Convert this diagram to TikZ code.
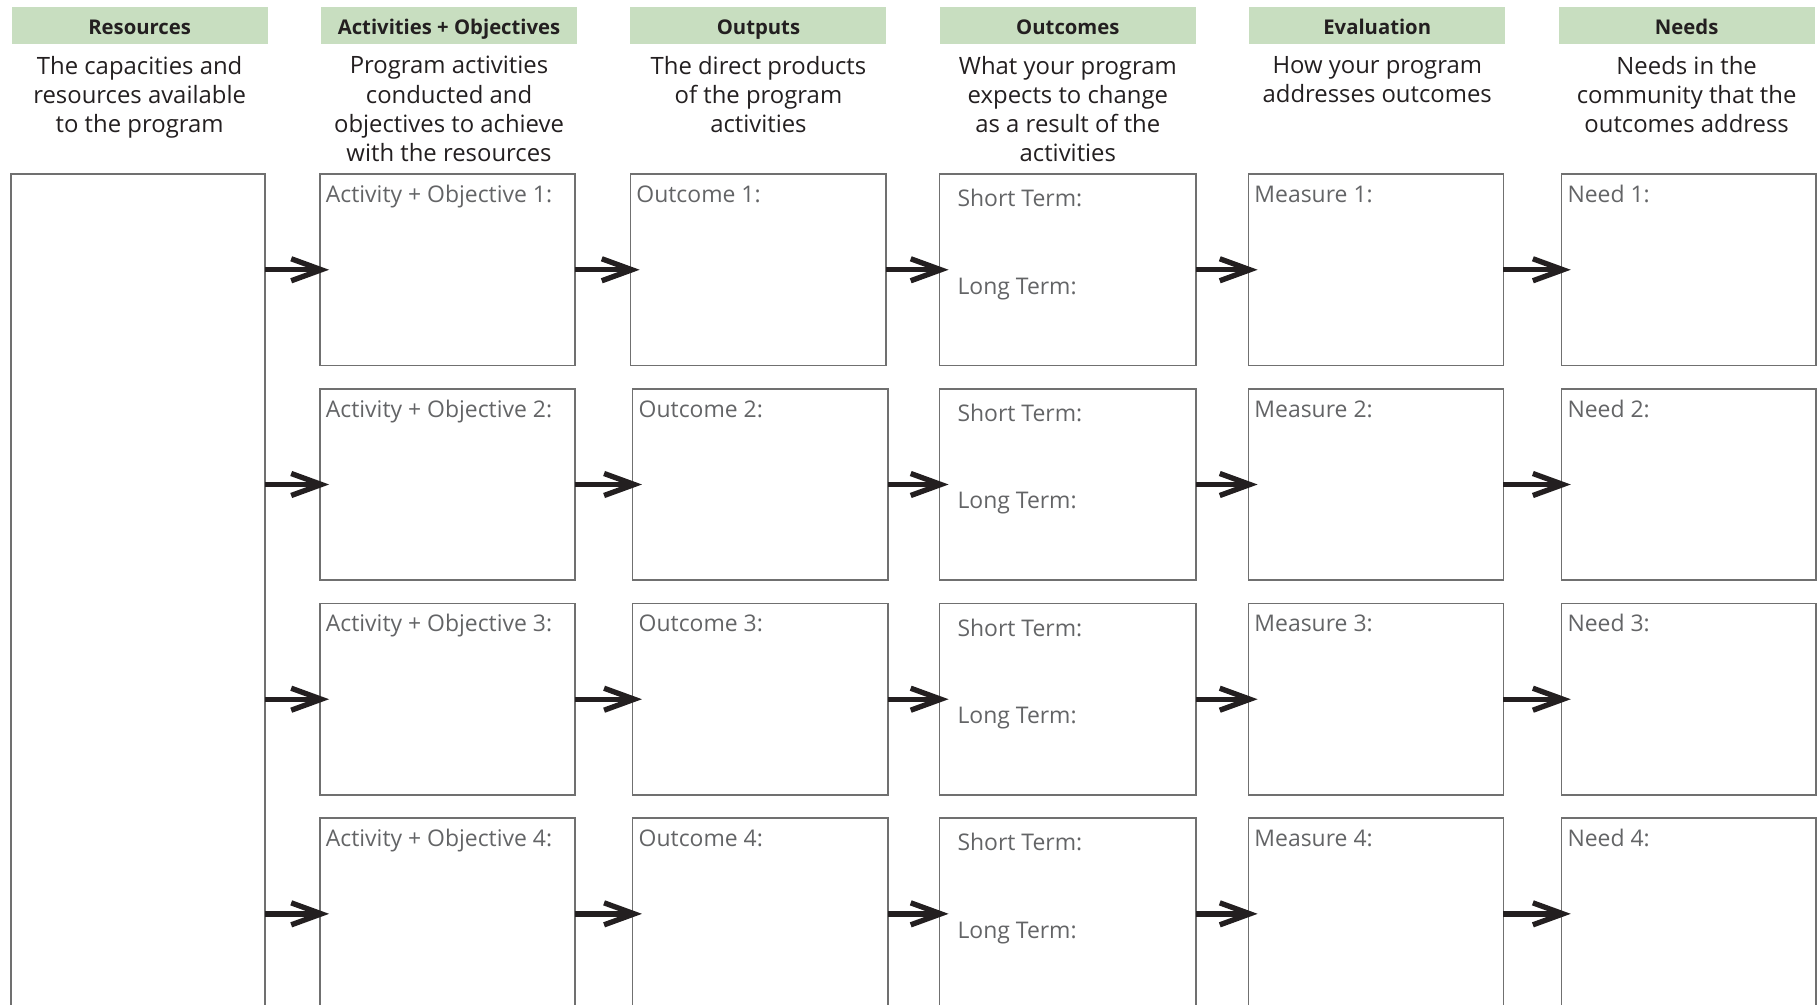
\documentclass[tikz,border=0pt]{standalone}
\usepackage{fontspec}
\setmainfont{Open Sans}
\usetikzlibrary{arrows.meta,calc}
\definecolor{hdrgreen}{RGB}{200,222,192}
\definecolor{ink}{RGB}{35,31,32}
\definecolor{lblgray}{RGB}{99,100,102}
\definecolor{boxline}{RGB}{112,112,112}
\begin{document}
\begin{tikzpicture}[x=1pt,y=-1pt,
  hdr/.style={fill=hdrgreen, draw=none, minimum width=221pt, minimum height=32pt, anchor=north west, inner sep=0pt, outer sep=0pt},
  hdrtxt/.style={font=\fontsize{17.5}{21}\selectfont\bfseries, text=ink, anchor=base, inner sep=0pt},
  desc/.style={font=\fontsize{20.6}{25.1}\selectfont, text=ink, align=center, anchor=north, inner sep=0pt, execute at begin node={\rule{0pt}{16pt}}},
  box/.style={draw=boxline, line width=1.3pt, anchor=north west, inner sep=0pt, outer sep=0pt, minimum height=165pt},
  lbl/.style={font=\fontsize{19.8}{23}\selectfont, text=lblgray, anchor=base west, inner sep=0pt},
  arr/.style={draw=ink, line width=4.6pt, -{Straight Barb[length=26pt, width=19pt, line cap=butt, line join=miter]}}
]
\useasboundingbox (0,0) rectangle (1568,867);
\clip (0,0) rectangle (1568,867);

% header bars
\foreach \k/\name in {0/Resources, 1/Activities + Objectives, 2/Outputs, 3/Outcomes, 4/Evaluation, 5/Needs}{
  \node[hdr] (h\k) at ({10+267*\k},6) {};
  \node[hdrtxt] (ht\k) at ({120.5+267*\k},29.6) {\name};
}

% descriptions
\node[desc] (d0) at (120.5,48.5) {The capacities and\\resources available\\to the program};
\node[desc] (d1) at (387.5,48.5) {Program activities\\conducted and\\objectives to achieve\\with the resources};
\node[desc] (d2) at (654.5,48.5) {The direct products\\of the program\\activities};
\node[desc] (d3) at (921.5,48.5) {What your program\\expects to change\\as a result of the\\activities};
\node[desc] (d4) at (1188.5,48.5) {How your program\\addresses outcomes};
\node[desc] (d5) at (1455.5,48.5) {Needs in the\\community that the\\outcomes address};

% resources box
\node[box, minimum width=219.2pt, minimum height=760pt] (res) at (9.5,150.3) {};

\foreach \r/\t/\ox in {1/150.3/544, 2/335.6/546, 3/520.9/546, 4/706.1/546}{
  \node[box, minimum width=220pt] (a\r) at (276,\t) {};
  \node[box, minimum width=220.5pt] (o\r) at (\ox,\t) {};
  \node[box, minimum width=221.5pt] (s\r) at (810.6,\t) {};
  \node[box, minimum width=220pt] (m\r) at (1077.3,\t) {};
  \node[box, minimum width=219.8pt] (n\r) at (1347.5,\t) {};
  \node[lbl] (al\r) at ($(a\r.north west)+(5,24.4)$) {Activity + Objective \r:};
  \node[lbl] (ol\r) at ($(o\r.north west)+(5,24.4)$) {Outcome \r:};
  \node[lbl] (ss\r) at ($(s\r.north west)+(15.5,28)$) {Short Term:};
  \node[lbl] (sl\r) at ($(s\r.north west)+(15.5,103.5)$) {Long Term:};
  \node[lbl] (ml\r) at ($(m\r.north west)+(5,24.4)$) {Measure \r:};
  \node[lbl] (nl\r) at ($(n\r.north west)+(5,24.4)$) {Need \r:};
  \draw[arr] (res.east |- a\r.west) -- ([xshift=8pt]a\r.west);
  \draw[arr] (a\r.east) -- ([xshift=8pt]o\r.west);
  \draw[arr] (o\r.east) -- ([xshift=8pt]s\r.west);
  \draw[arr] (s\r.east) -- ([xshift=8pt]m\r.west);
  \draw[arr] (m\r.east) -- ([xshift=8pt]n\r.west);
}
\end{tikzpicture}
\end{document}
